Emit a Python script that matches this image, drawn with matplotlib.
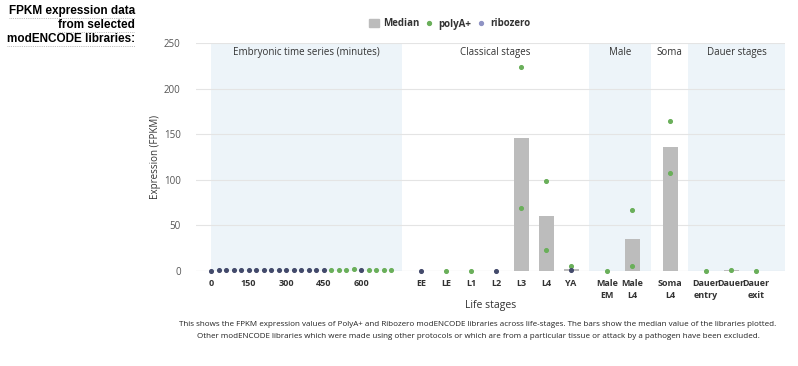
import numpy as np
import matplotlib
matplotlib.use("Agg")
import matplotlib.pyplot as plt
from matplotlib.lines import Line2D
from matplotlib.patches import Patch

plt.rcParams['font.family'] = ['Open Sans', 'DejaVu Sans']

# embryonic time series (minutes)
emb_minutes = [0, 30, 60, 90, 120, 150, 180, 210, 240, 270, 300, 330, 360, 390,
               420, 450, 480, 510, 540, 570, 600, 630, 660, 690, 720]
emb_ribo_min = [0, 30, 60, 90, 120, 150, 180, 210, 240, 270, 300, 330, 360, 390, 420, 450, 600]
emb_ribo_val = [0.5, 1.5, 0.8, 1.6, 0.9, 0.7, 0.8, 0.6, 0.7, 0.8, 1.2, 1.4, 1.3, 1.2, 1.1, 1.0, 0.6]
emb_poly_min = [480, 510, 540, 570, 630, 660, 690, 720]
emb_poly_val = [0.8, 0.9, 1.0, 2.5, 0.8, 0.7, 0.6, 0.7]

# life stage categories
stages = ['EE', 'LE', 'L1', 'L2', 'L3', 'L4', 'YA', 'Male\nEM', 'Male\nL4',
          'Soma\nL4', 'Dauer\nentry', 'Dauer', 'Dauer\nexit']
stage_pos = [8.4, 9.4, 10.4, 11.4, 12.4, 13.4, 14.4, 15.84, 16.84, 18.36, 19.8, 20.8, 21.8]
median = [0.5, 0.5, 0.5, 0.5, 145.5, 60.3, 2.5, 0.5, 35.4, 135.6, 0.5, 1.0, 0.5]
poly_stage = ['LE', 'L1', 'L3', 'L3', 'L4', 'L4', 'YA', 'Male\nEM', 'Male\nL4', 'Male\nL4',
              'Soma\nL4', 'Soma\nL4', 'Dauer\nentry', 'Dauer', 'Dauer\nexit']
poly_val = [0.5, 0.5, 223.5, 69.4, 99.0, 23.4, 5.5, 0.5, 67.2, 5.5, 165.0, 107.8, 0.5, 1.5, 0.5]
ribo_stage = ['EE', 'L2', 'YA']
ribo_val = [0.5, 0.5, 1.5]

groups = ['Embryonic time series (minutes)', 'Classical stages', 'Male', 'Soma', 'Dauer stages']
group_span = [(0, 7.64), (7.64, 15.12), (15.12, 17.6), (17.6, 19.08), (19.08, 22.96)]
group_shaded = [True, False, True, False, True]

title_lines = ['FPKM expression data', 'from selected', 'modENCODE libraries:']

green = '#6aaf5a'
navy = '#434a6b'
band = '#edf4f9'

fig = plt.figure(figsize=(7.98, 3.66), dpi=100)
ax = fig.add_axes([196 / 798, 1 - 271 / 366, 589 / 798, 228 / 366])
ax.set_xlim(-0.6, 22.96)
ax.set_ylim(0, 250)

for (a, b), sh, name in zip(group_span, group_shaded, groups):
    if sh:
        ax.axvspan(a, b, color=band, zorder=0, lw=0)
    ax.text((a + b) / 2, 240, name, ha='center', va='center', fontsize=7, color='#333333')

for y in [50, 100, 150, 200, 250]:
    ax.axhline(y, color='#e4e4e4', lw=0.8, zorder=1)
ax.axhline(0, color='#c8c8c8', lw=0.8, zorder=1)

pos = dict(zip(stages, stage_pos))
ax.bar(stage_pos, median, width=0.6, color='#bcbcbc', zorder=2)

ax.scatter(np.array(emb_ribo_min) / 100, emb_ribo_val, s=7, color=navy, zorder=4, clip_on=False)
ax.scatter(np.array(emb_poly_min) / 100, emb_poly_val, s=7, color=green, zorder=3, clip_on=False)
ax.scatter([pos[s] for s in poly_stage], poly_val, s=7, color=green, zorder=3, clip_on=False)
ax.scatter([pos[s] for s in ribo_stage], ribo_val, s=7, color=navy, zorder=4, clip_on=False)

emb_ticks = [0, 150, 300, 450, 600]
ax.set_xticks([t / 100 for t in emb_ticks] + stage_pos)
ax.set_xticklabels([str(t) for t in emb_ticks] + stages, fontsize=6.5, fontweight='bold',
                   color='#333333', linespacing=1.4, va='top')
ax.tick_params(axis='x', length=0, pad=6)
ax.set_yticks([0, 50, 100, 150, 200, 250])
ax.tick_params(axis='y', length=0, labelsize=7, labelcolor='#555555', pad=11)
for sp in ax.spines.values():
    sp.set_visible(False)

ax.set_ylabel('Expression (FPKM)', fontsize=7, color='#333333', labelpad=2)
ax.set_xlabel('Life stages', fontsize=7.5, color='#333333', labelpad=0)

handles = [Patch(color='#bcbcbc', label='Median'),
           Line2D([], [], ls='', marker='o', ms=2.8, color=green, label='polyA+'),
           Line2D([], [], ls='', marker='o', ms=2.8, color='#8f93c4', label='ribozero')]
leg = fig.legend(handles=handles, loc='center', bbox_to_anchor=(450 / 798, 1 - 24 / 366),
                 ncol=3, frameon=False, fontsize=7, handlelength=1.0, handleheight=0.9,
                 columnspacing=0.5, handletextpad=0.45)
for t in leg.get_texts():
    t.set_fontweight('bold')
    t.set_color('#333333')

# title, right aligned with a dotted underline on every line
renderer = fig.canvas.get_renderer()
for i, line in enumerate(title_lines):
    ty = 1 - (11 + 14 * i) / 366
    t = fig.text(135 / 798, ty, line, ha='right', va='center', fontsize=8.5,
                 fontweight='bold', family='Liberation Sans')
    bb = t.get_window_extent(renderer).transformed(fig.transFigure.inverted())
    fig.add_artist(Line2D([bb.x0, bb.x1], [bb.y0 - 1 / 366, bb.y0 - 1 / 366],
                          transform=fig.transFigure, color='#aaaaaa', lw=0.6, ls=(0, (1, 1.2))))

fig.text(478 / 798, 1 - 321 / 366,
         'This shows the FPKM expression values of PolyA+ and Ribozero modENCODE libraries across life-stages. '
         'The bars show the median value of the libraries plotted.\n'
         'Other modENCODE libraries which were made using other protocols or which are from a particular '
         'tissue or attack by a pathogen have been excluded.',
         ha='center', va='top', fontsize=5.8, color='#222222', linespacing=2.1)

fig.savefig('out.png', dpi=100)
